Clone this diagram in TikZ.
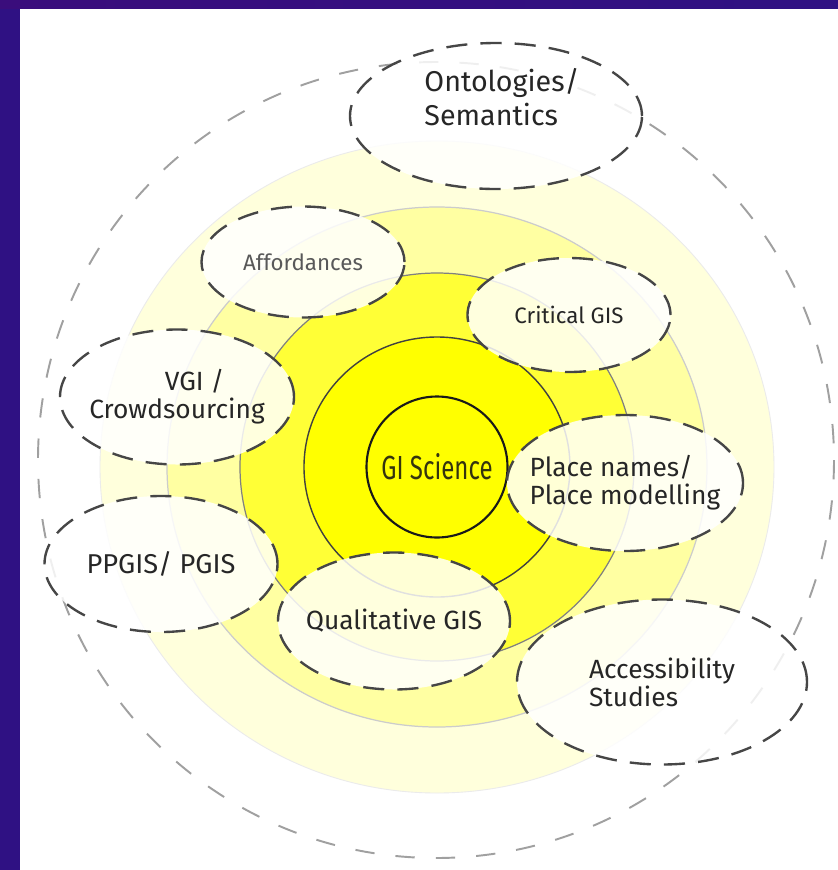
\documentclass[tikz,border=0pt]{standalone}
\usepackage{fontspec}
\setmainfont{Fira Sans}
\usepackage{graphicx}
\usepackage{xcolor}
\usetikzlibrary{shapes.geometric}

\definecolor{frame}{HTML}{2F1183}
\definecolor{frametop}{HTML}{3A0D7C}
\definecolor{paleyellow}{HTML}{FFFFDC}
\definecolor{lightyellow}{HTML}{FFFFA2}
\definecolor{midyellow}{HTML}{FFFF36}
\definecolor{coreyellow}{HTML}{FFFF00}
\definecolor{dashgrey}{HTML}{464646}
\definecolor{outergrey}{HTML}{A0A0A0}
\definecolor{coretext}{HTML}{34340F}

\tikzset{
  bubble/.style 2 args={ellipse, draw=dashgrey, line width=1.35pt,
    dash pattern=on 12pt off 7.5pt, fill=white, fill opacity=.84,
    text opacity=1, inner xsep=-2cm, inner ysep=-1cm, text=black!85,
    minimum width=#1*0.02cm, minimum height=#2*0.02cm,
    font=\fontsize{15}{16}\selectfont},
  smalltext/.style={font=\fontsize{12.7}{15}\selectfont},
  bigtext/.style={font=\fontsize{16.3}{19}\selectfont},
}

\begin{document}
\begin{tikzpicture}[x=0.02cm, y=-0.02cm]
  \useasboundingbox (0,0) rectangle (838,870);
  \fill[white] (0,0) rectangle (838,870);
  \fill[frame] (0,0) rectangle (20,870);
  \shade[left color=frametop, right color=frame] (0,0) rectangle (838,8);

  % rings
  \fill[paleyellow] (437,467) ellipse [x radius=337, y radius=326];
  \draw[black!8, line width=.5pt] (437,467) ellipse [x radius=337, y radius=326];
  \fill[lightyellow] (437,467) ellipse [x radius=270, y radius=260];
  \draw[black!20, line width=.7pt] (437,467) ellipse [x radius=270, y radius=260];
  \fill[midyellow] (437,467) ellipse [x radius=197, y radius=194];
  \draw[black!50, line width=.7pt] (437,467) ellipse [x radius=197, y radius=194];
  \fill[coreyellow] (437,467) ellipse [x radius=133, y radius=130];
  \draw[black!75, line width=.8pt] (437,467) ellipse [x radius=133, y radius=130];
  \node[circle, draw=black!90, line width=1.2pt, minimum size=141*0.02cm,
    inner sep=0pt, text=coretext, font=\fontsize{19}{20}\selectfont]
    (core) at (437,467) {\scalebox{.72}[1]{GI Science}};

  \draw[outergrey, line width=1.1pt, dash pattern=on 11pt off 12pt]
    (436,460) circle [radius=398];

  % topics
  \node[bubble={292}{146}] (onto) at (496,116) {};
  \node[bigtext, align=left, text=black!85] (ontolabel) at (502,97)
    {Ontologies/\\Semantics};
  \node[bubble={203}{111}, smalltext, text=black!65] (afford) at (303,262)
    {Affordances};
  \node[bubble={203}{114}, smalltext] (critical) at (569,315) {Critical GIS};
  \node[bubble={234}{135}, align=center] (vgi) at (177,397)
    {\hspace*{20pt}VGI /\\Crowdsourcing};
  \node[bubble={233}{136}, font=\fontsize{15.5}{17}\selectfont]
    (ppgis) at (161,564) {PPGIS/ PGIS};
  \node[bubble={236}{136}, align=left] (place) at (625,483)
    {Place names/\\Place modelling};
  \node[bubble={232}{137}] (qual) at (394,621) {Qualitative GIS};
  \node[bubble={290}{165}, align=left] (access) at (662,682)
    {Accessibility\\Studies};
\end{tikzpicture}
\end{document}
